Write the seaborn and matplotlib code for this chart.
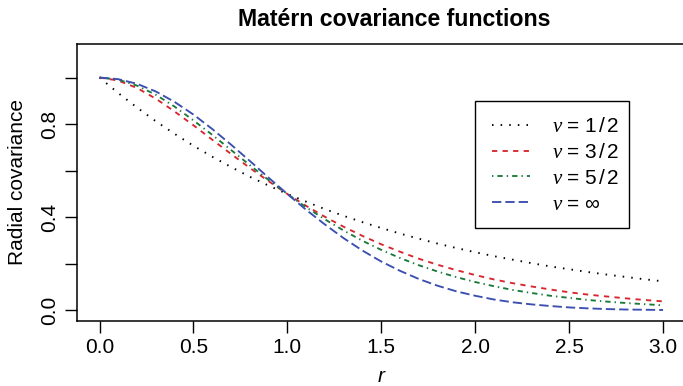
import matplotlib
matplotlib.use("Agg")
import numpy as np
import pandas as pd
import seaborn as sns
import matplotlib.pyplot as plt
from matplotlib.patches import Rectangle

# ---- data ----
r = [0.0, 0.1, 0.2, 0.3, 0.4, 0.5, 0.6, 0.7, 0.8, 0.9, 1.0,
     1.1, 1.2, 1.3, 1.4, 1.5, 1.6, 1.7, 1.8, 1.9, 2.0,
     2.1, 2.2, 2.3, 2.4, 2.5, 2.6, 2.7, 2.8, 2.9, 3.0]
cov_nu_1_2 = [1.000, 0.933, 0.871, 0.812, 0.758, 0.707, 0.660, 0.616, 0.574, 0.536, 0.500,
              0.467, 0.435, 0.406, 0.379, 0.354, 0.330, 0.308, 0.287, 0.268, 0.250,
              0.233, 0.218, 0.203, 0.189, 0.177, 0.165, 0.154, 0.144, 0.134, 0.125]
cov_nu_3_2 = [1.000, 0.987, 0.955, 0.909, 0.854, 0.795, 0.733, 0.672, 0.612, 0.555, 0.500,
              0.449, 0.402, 0.359, 0.320, 0.284, 0.252, 0.222, 0.196, 0.173, 0.152,
              0.133, 0.117, 0.103, 0.090, 0.078, 0.068, 0.060, 0.052, 0.045, 0.039]
cov_nu_5_2 = [1.000, 0.991, 0.965, 0.926, 0.875, 0.816, 0.754, 0.689, 0.624, 0.560, 0.500,
              0.443, 0.391, 0.343, 0.299, 0.260, 0.225, 0.194, 0.167, 0.143, 0.122,
              0.104, 0.088, 0.075, 0.063, 0.054, 0.045, 0.038, 0.032, 0.027, 0.022]
cov_nu_inf = [1.000, 0.993, 0.973, 0.940, 0.895, 0.841, 0.779, 0.712, 0.642, 0.570, 0.500,
              0.432, 0.369, 0.310, 0.257, 0.210, 0.170, 0.135, 0.106, 0.082, 0.063,
              0.047, 0.035, 0.026, 0.019, 0.013, 0.009, 0.006, 0.004, 0.003, 0.002]
series_names = ["nu=1/2", "nu=3/2", "nu=5/2", "nu=inf"]
legend_labels = [r"$\nu\,=\,1\,/\,2$", r"$\nu\,=\,3\,/\,2$", r"$\nu\,=\,5\,/\,2$", r"$\nu\,=\,\infty$"]
x_ticks = [0.0, 0.5, 1.0, 1.5, 2.0, 2.5, 3.0]
x_ticklabels = ["0.0", "0.5", "1.0", "1.5", "2.0", "2.5", "3.0"]
y_ticks = [0.0, 0.2, 0.4, 0.6, 0.8, 1.0]
y_ticklabels = ["0.0", "", "0.4", "", "0.8", ""]

df = pd.concat([
    pd.DataFrame({"r": r, "cov": v, "nu": n})
    for v, n in zip([cov_nu_1_2, cov_nu_3_2, cov_nu_5_2, cov_nu_inf], series_names)
], ignore_index=True)

# ---- style ----
sns.set_theme(style="ticks")
plt.rcParams["font.family"] = ["Liberation Sans", "DejaVu Sans"]
plt.rcParams.update({
    "mathtext.fontset": "custom",
    "mathtext.rm": "Liberation Sans",
    "mathtext.it": "Liberation Serif:italic",
    "mathtext.bf": "Liberation Sans:bold",
    "lines.scale_dashes": False,
    "axes.edgecolor": "black",
    "xtick.color": "black",
    "ytick.color": "black",
    "text.color": "black",
    "axes.labelcolor": "black",
})

palette = {"nu=1/2": "black", "nu=3/2": "#d8262e", "nu=5/2": "#1a7a3a", "nu=inf": "#3a4fb0"}
dashes = {"nu=1/2": (1.1, 5.1), "nu=3/2": (3.8, 3.8),
          "nu=5/2": (1.0, 2.9, 3.8, 2.9), "nu=inf": (6.7, 2.9)}

FS = 15
W, H = 683, 386
fig = plt.figure(figsize=(W / 100, H / 100), dpi=100)
ax_left, ax_right, ax_top, ax_bot = 77, 685.6, 44, 320.7
ax = fig.add_axes([ax_left / W, 1 - ax_bot / H, (ax_right - ax_left) / W, (ax_bot - ax_top) / H])

sns.lineplot(data=df, x="r", y="cov", hue="nu", style="nu", hue_order=series_names,
             style_order=series_names, palette=palette, dashes=dashes, linewidth=1.35,
             legend=False, ax=ax)

ax.set_xlim(-0.12, 3.12)
ax.set_ylim(-0.044, 1.144)
ax.set_xticks(x_ticks)
ax.set_xticklabels(x_ticklabels)
ax.set_yticks(y_ticks)
ax.set_yticklabels(y_ticklabels, rotation=90, va="center")
ax.tick_params(axis="both", length=8.6, width=1.0, labelsize=FS, direction="out")
ax.tick_params(axis="x", pad=4.0)
ax.tick_params(axis="y", pad=4.5)
for s in ax.spines.values():
    s.set_linewidth(1.1)
    s.set_color("black")

ax.set_xlabel("r", fontsize=FS, style="italic")
ax.set_ylabel("Radial covariance", fontsize=FS)
ax.xaxis.set_label_coords(381 / W, 1 - 376 / H, transform=fig.transFigure)
ax.xaxis.label.set_verticalalignment("center")
ax.yaxis.set_label_coords(17.5 / W, 1 - ((ax_top + ax_bot) / 2) / H, transform=fig.transFigure)
ax.yaxis.label.set_verticalalignment("center")

fig.text(394 / W, 1 - 19 / H, "Matérn covariance functions", ha="center", va="center",
         fontsize=16.7, fontweight="bold")

# legend
handles = ax.get_lines()[:4]
leg = ax.legend(handles, legend_labels, loc="upper left",
                bbox_to_anchor=(492 / W, 1 - 117 / H), bbox_transform=fig.transFigure,
                frameon=False, borderpad=0, borderaxespad=0, fontsize=FS,
                handlelength=1.8, handletextpad=1.1, labelspacing=0.33)
fig.add_artist(Rectangle((475 / W, 1 - 228 / H), 154 / W, 127 / H, transform=fig.transFigure,
                         fill=False, edgecolor="black", linewidth=1.0))

fig.savefig("out.png", dpi=100)
